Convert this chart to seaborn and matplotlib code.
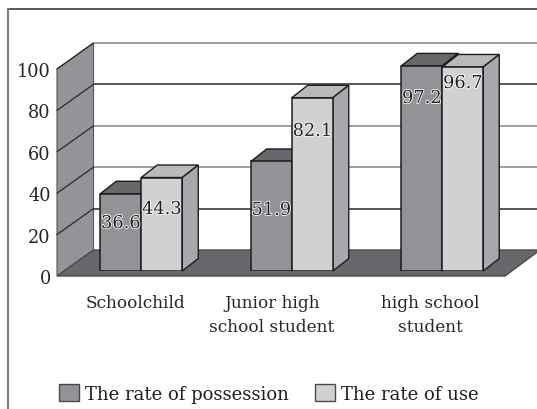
import matplotlib
matplotlib.use("Agg")
import matplotlib.pyplot as plt
import matplotlib.patheffects as pe
from matplotlib.patches import Polygon
from matplotlib.transforms import ScaledTranslation
import pandas as pd
import seaborn as sns

# Survey values (percent)
groups = ["Schoolchild", "Junior high\nschool student", "high school\nstudent"]
possession = [36.6, 51.9, 97.2]
use = [44.3, 82.1, 96.7]
series_names = ["The rate of possession", "The rate of use"]
value_ticks = [0, 20, 40, 60, 80, 100]
label_heights_possession = [22.7, 29.0, 82.0]
label_heights_use = [29.4, 66.4, 89.1]

FRONT = ["#929396", "#d0d1d3"]
TOP = ["#67686b", "#b9babd"]
SIDE = ["#77787b", "#a7a8ac"]
WALL = "#939497"
FLOOR = "#67686b"
EDGE = "#1c1c1e"

W, H = 537, 410
DPI = 100

sns.set_style("white")
plt.rcParams["font.family"] = ["DejaVu Serif"]
plt.rcParams["text.color"] = "#1e1e1e"

fig = plt.figure(figsize=(W / DPI, H / DPI), dpi=DPI, facecolor="white")


def axes_px(x0, x1, y_top, y_bottom):
    return fig.add_axes([x0 / W, 1 - y_bottom / H, (x1 - x0) / W, (y_bottom - y_top) / H])


def shifted(ax, dx, dy):
    return ax.transData + ScaledTranslation(dx / DPI, dy / DPI, fig.dpi_scale_trans)


# Outer frame, open at the right and bottom
fig.add_artist(plt.Line2D([8 / W, 1], [1 - 10 / H] * 2, color="#2a2a2a", lw=1.1))
fig.add_artist(plt.Line2D([8 / W] * 2, [0, 1 - 10 / H], color="#808080", lw=1.6))

# Wall, floor, gridlines and the value axis
ax = axes_px(57, 505, 70, 277)
ax.set_xlim(57, 505)
ax.set_ylim(0, 100)
ax.patch.set_visible(False)
sns.despine(ax=ax, left=True, bottom=True, top=True, right=True)

DEPTH_X, DEPTH_Y = 36.5, 26.0
back = shifted(ax, DEPTH_X, DEPTH_Y)
ax.add_patch(Polygon([(57, 0), (57 + DEPTH_X, 26 / 2.07), (57 + DEPTH_X, 100 + 26 / 2.07), (57, 100)],
                     closed=True, fc=WALL, ec="#555558", lw=0.8, clip_on=False, zorder=1))
ax.add_patch(Polygon([(57, 0), (57 + DEPTH_X, 26 / 2.07), (540, 26 / 2.07), (505, 0)],
                     closed=True, fc=FLOOR, ec="#4a4a4d", lw=1.0, clip_on=False, zorder=1))
for v in value_ticks[1:]:
    shade = "#8f8f8f" if v in (40, 60, 100) else "#3a3a3a"
    ax.plot([57, 540 - DEPTH_X], [v, v], transform=back, color=shade,
            lw=1.2, clip_on=False, zorder=2, solid_capstyle="butt")
    ax.plot([57, 57 + DEPTH_X], [v, v + 26 / 2.07], color="#2a2a2a", lw=0.9,
            clip_on=False, zorder=2)

ax.set_yticks(value_ticks)
ax.set_yticklabels([str(v) for v in value_ticks], fontsize=12.8)
ax.set_xticks([135.5, 272, 430])
ax.set_xticklabels(groups, fontsize=12.2, linespacing=1.55)
ax.tick_params(axis="both", length=0)
ax.tick_params(axis="y", pad=4.5)
ax.tick_params(axis="x", pad=13)

# Bars, with depth faces built from each drawn bar
frame = pd.DataFrame({
    "group": groups * 2,
    "series": [series_names[0]] * 3 + [series_names[1]] * 3,
    "value": possession + use,
})
bx = axes_px(66, 517.5, 61, 272)
bx.patch.set_visible(False)
sns.barplot(data=frame, x="group", y="value", hue="series", hue_order=series_names,
            palette=FRONT, width=0.545, gap=0, saturation=1, edgecolor=EDGE, linewidth=1.1,
            legend=False, ax=bx, zorder=5)
bx.set_xlim(-0.5, 2.5)
bx.set_ylim(0, 100)
bx.axis("off")

BAR_DX, BAR_DY = 16.0, 12.5
px_x = 451.5 / 3
px_y = 211 / 100
bars = list(bx.containers[0]) + list(bx.containers[1])
for idx, bar in enumerate(bars):
    s = idx // 3
    g = idx % 3
    x0, x1 = bar.get_x(), bar.get_x() + bar.get_width()
    h = bar.get_height()
    ddx, ddy = BAR_DX / px_x, BAR_DY / px_y
    z = 5 + g * 2 + s * 0.5
    bar.set_zorder(z + 0.2)
    bx.add_patch(Polygon([(x0, h), (x0 + ddx, h + ddy), (x1 + ddx, h + ddy), (x1, h)], closed=True,
                         fc=TOP[s], ec=EDGE, lw=1.0, clip_on=False, zorder=z))
    bx.add_patch(Polygon([(x1, 0), (x1 + ddx, ddy), (x1 + ddx, h + ddy), (x1, h)], closed=True,
                         fc=SIDE[s], ec=EDGE, lw=1.0, clip_on=False, zorder=z))

# Value labels with a pale halo
halo = [pe.withStroke(linewidth=1.2, foreground="white")]
for bar_set, vals, heights in ((bx.containers[0], possession, label_heights_possession),
                               (bx.containers[1], use, label_heights_use)):
    for bar, val, yy in zip(bar_set, vals, heights):
        bx.text(bar.get_x() + bar.get_width() / 2, yy, f"{val:.1f}", ha="center", va="center",
                fontsize=12.8, color="#1e1e1e", path_effects=halo, zorder=30)

# Legend below the plot
handles = [plt.Rectangle((0, 0), 1, 1, fc=c, ec="#4a4a4a", lw=1.0) for c in FRONT]
fig.legend(handles, series_names, loc="lower left", bbox_to_anchor=(52.5 / W, 0), ncol=2,
           frameon=False, fontsize=13, handlelength=1.1, handleheight=1.1,
           handletextpad=0.33, columnspacing=1.45, borderaxespad=0.0, borderpad=0.35)

fig.savefig("out.png", dpi=DPI, facecolor="white")
